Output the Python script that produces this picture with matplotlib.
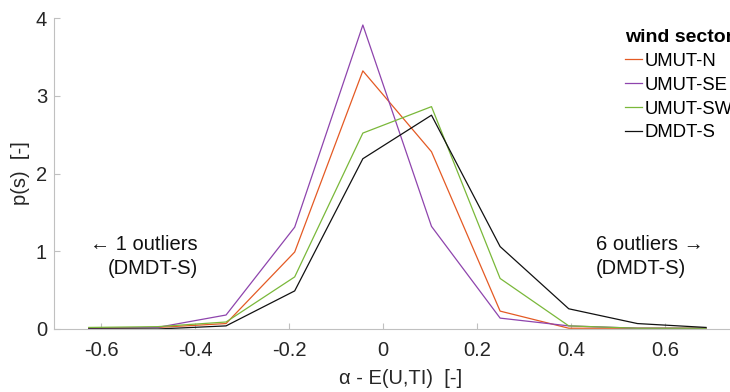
import matplotlib
matplotlib.use("Agg")
import matplotlib.pyplot as plt

plt.rcParams['font.family'] = ['Liberation Sans', 'DejaVu Sans']

# bin centres of alpha - E(U,TI)
x_centers = [-0.626, -0.480, -0.334, -0.188, -0.043, 0.103, 0.249, 0.395, 0.541, 0.687]

umut_n  = [0.01, 0.02, 0.07, 0.99, 3.32, 2.28, 0.23, 0.01, 0.01, 0.01]
umut_se = [0.01, 0.02, 0.18, 1.31, 3.91, 1.32, 0.14, 0.04, 0.01, 0.01]
umut_sw = [0.02, 0.03, 0.09, 0.67, 2.52, 2.86, 0.65, 0.04, 0.01, 0.01]
dmdt_s  = [0.00, 0.00, 0.04, 0.49, 2.19, 2.75, 1.06, 0.26, 0.07, 0.02]

series_names = ["UMUT-N", "UMUT-SE", "UMUT-SW", "DMDT-S"]
series_vals = [umut_n, umut_se, umut_sw, dmdt_s]
colors = ["#E45A24", "#8E44AD", "#7AB83A", "#111111"]

x_ticks = [-0.6, -0.4, -0.2, 0, 0.2, 0.4, 0.6]
x_ticklabels = ["-0.6", "-0.4", "-0.2", "0", "0.2", "0.4", "0.6"]
y_ticks = [0, 1, 2, 3, 4]

fig = plt.figure(figsize=(7.3, 3.92), dpi=100)
ax = fig.add_axes([54/730, 63/392, 676/730, 311/392])

for name, vals, c in zip(series_names, series_vals, colors):
    ax.plot(x_centers, vals, color=c, lw=0.9, label=name)

ax.set_xlim(-0.7, 0.738)
ax.set_ylim(0, 4)
ax.set_xticks(x_ticks)
ax.set_xticklabels(x_ticklabels)
ax.set_yticks(y_ticks)

for s in ["top", "right"]:
    ax.spines[s].set_visible(False)
for s in ["left", "bottom"]:
    ax.spines[s].set_color("#C0C0C0")
    ax.spines[s].set_linewidth(0.8)
ax.tick_params(direction="in", length=4, color="#C0C0C0", labelcolor="#262626",
               labelsize=14.5)
ax.tick_params(axis="x", pad=9)
ax.tick_params(axis="y", pad=5)

ax.set_xlabel("α - E(U,TI)  [-]", fontsize=14.5, color="#262626")
ax.xaxis.set_label_coords((401-54)/676, -0.13)
ax.set_ylabel("p(s)  [-]", fontsize=14.5, color="#262626")

ax.text(-0.394, 0.93, "← 1 outliers\n(DMDT-S)", ha="right", va="center",
        multialignment="right", fontsize=14.5, color="#111111", linespacing=1.35)
ax.text(0.453, 0.93, "6 outliers →\n(DMDT-S)", ha="left", va="center",
        multialignment="left", fontsize=14.5, color="#111111", linespacing=1.35)

leg = ax.legend(loc="upper left", bbox_to_anchor=(625/730, 1 - 29/392),
                bbox_transform=fig.transFigure, frameon=False,
                title="wind sector", fontsize=13.3,
                title_fontproperties={"weight": "bold", "size": 14},
                handlelength=0.9, handletextpad=0.15, labelspacing=0.37,
                borderpad=0, borderaxespad=0, alignment="left")

fig.savefig("out.png", dpi=100)
